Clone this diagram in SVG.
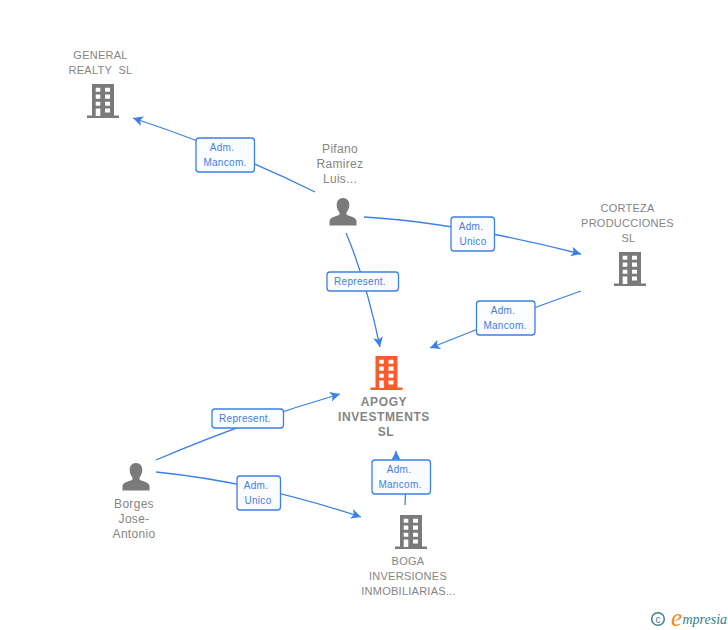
<svg xmlns="http://www.w3.org/2000/svg" width="728" height="630" viewBox="0 0 728 630">
<style>
.n{font-family:"Liberation Sans",Arial,sans-serif;font-size:11px;letter-spacing:.25px;fill:#858585;text-anchor:middle;white-space:pre}
.m{font-size:12px;letter-spacing:.3px}
.b{font-weight:bold;font-size:12px;letter-spacing:.6px}
.l{font-family:"Liberation Sans",Arial,sans-serif;font-size:10px;letter-spacing:.3px;fill:#3f80e0;text-anchor:middle}
.e{fill:none;stroke:#3b80e4;stroke-width:1.3}
.r{fill:#fbfcff;stroke:#3b80e4;stroke-width:1.3}
</style>
<defs>
<marker id="a" markerUnits="userSpaceOnUse" markerWidth="14" markerHeight="14" refX="10" refY="6" orient="auto"><path d="M0,1 L10,6 L0,11 L2.500,6 Z" fill="#3b80e4"/></marker>
<symbol id="bld" width="32" height="34" overflow="visible">
<path fill-rule="evenodd" d="M5,0H27V31.500H32V34H0V31.500H5ZM8.700,3.700V7.700H13.300V3.700ZM18,3.700V7.700H23V3.700ZM8.700,10.500V14.700H13.300V10.500ZM18,10.500V14.700H23V10.500ZM8.700,17.700V21.700H13.300V17.700ZM18,17.700V21.700H23V17.700ZM8.700,24.500V32H13.300V24.500ZM18,24.500V28.500H23V24.500Z"/>
</symbol>
<symbol id="per" width="28" height="28" overflow="visible">
<path d="M14,0C18,0 20.300,3 20.300,7C20.300,10 19,13 17.500,14.500V16.500C20,18.500 27,18.800 27.500,23V27.500H0.500V23C1,18.800 8,18.500 10.500,16.500V14.500C9,13 7.700,10 7.700,7C7.700,3 10,0 14,0Z"/>
</symbol>
</defs>
<g id="connectors">
<path class="e" marker-end="url(#a)" d="M315,192Q235,152 133,118"/>
<path class="e" marker-end="url(#a)" d="M364,217Q460,223 581,254"/>
<path class="e" marker-end="url(#a)" d="M346,233Q366,280 380,347"/>
<path class="e" marker-end="url(#a)" d="M581,291Q510,316 430,348"/>
<path class="e" marker-end="url(#a)" d="M156,460Q250,420 340,394"/>
<path class="e" marker-end="url(#a)" d="M156,472Q255,482 361,517"/>
<path class="e" marker-end="url(#a)" d="M405,505C408,480 396,475 396,451"/>
</g>
<g id="edge-labels">
<rect class="r" x="196" y="138" width="58.500" height="34" rx="3"/><text class="l" x="222" y="151">Adm.</text><text class="l" x="225" y="166">Mancom.</text>
<rect class="r" x="451" y="217" width="43.500" height="34" rx="3"/><text class="l" x="471" y="230">Adm.</text><text class="l" x="473" y="245">Unico</text>
<rect class="r" x="327" y="272" width="71.500" height="19" rx="3"/><text class="l" x="360" y="285">Represent.</text>
<rect class="r" x="476.500" y="301" width="58.500" height="34" rx="3"/><text class="l" x="503" y="314">Adm.</text><text class="l" x="505" y="329">Mancom.</text>
<rect class="r" x="212" y="409" width="71.500" height="19" rx="3"/><text class="l" x="245" y="422">Represent.</text>
<rect class="r" x="237" y="476" width="43.500" height="34" rx="3"/><text class="l" x="256" y="489">Adm.</text><text class="l" x="258" y="504">Unico</text>
<rect class="r" x="372" y="460" width="58.500" height="34" rx="3"/><text class="l" x="399" y="473">Adm.</text><text class="l" x="400" y="488">Mancom.</text>
</g>
<g id="general-realty"><text class="n" x="100.500" y="59">GENERAL</text><text class="n" x="100.500" y="74">REALTY  SL</text><use href="#bld" x="87" y="84" fill="#7a7a7a"/></g>
<g id="pifano"><text class="n m" x="340" y="153">Pifano</text><text class="n m" x="340" y="168">Ramirez</text><text class="n m" x="340" y="183">Luis...</text><use href="#per" x="329" y="198" fill="#7a7a7a"/></g>
<g id="corteza"><text class="n" x="627.500" y="212">CORTEZA</text><text class="n" x="627.500" y="227">PRODUCCIONES</text><text class="n" x="628.500" y="242">SL</text><use href="#bld" x="614" y="252" fill="#7a7a7a"/></g>
<g id="apogy"><use href="#bld" x="370.500" y="356" fill="#ff5a2b"/><text class="n b" x="384" y="406">APOGY</text><text class="n b" x="384" y="421">INVESTMENTS</text><text class="n b" x="386" y="436">SL</text></g>
<g id="borges"><use href="#per" x="122" y="463" fill="#7a7a7a"/><text class="n m" x="134" y="508">Borges</text><text class="n m" x="134" y="523">Jose-</text><text class="n m" x="134" y="538">Antonio</text></g>
<g id="boga"><use href="#bld" x="395" y="515" fill="#7a7a7a"/><text class="n" x="408" y="565">BOGA</text><text class="n" x="408" y="580">INVERSIONES</text><text class="n" x="408.500" y="595">INMOBILIARIAS...</text></g>
<g id="logo"><circle cx="658" cy="619" r="6.300" fill="none" stroke="#3e7f95" stroke-width="1.500"/><text x="658" y="622.500" font-family="Liberation Sans,sans-serif" font-size="10" fill="#3e7f95" text-anchor="middle">c</text><text x="671" y="626" font-family="Liberation Serif,serif" font-style="italic" font-size="25" fill="#f08a1d">e</text><text x="682.500" y="624" font-family="Liberation Serif,serif" font-style="italic" font-size="14" fill="#2f7f8f">mpresia</text></g>
</svg>
